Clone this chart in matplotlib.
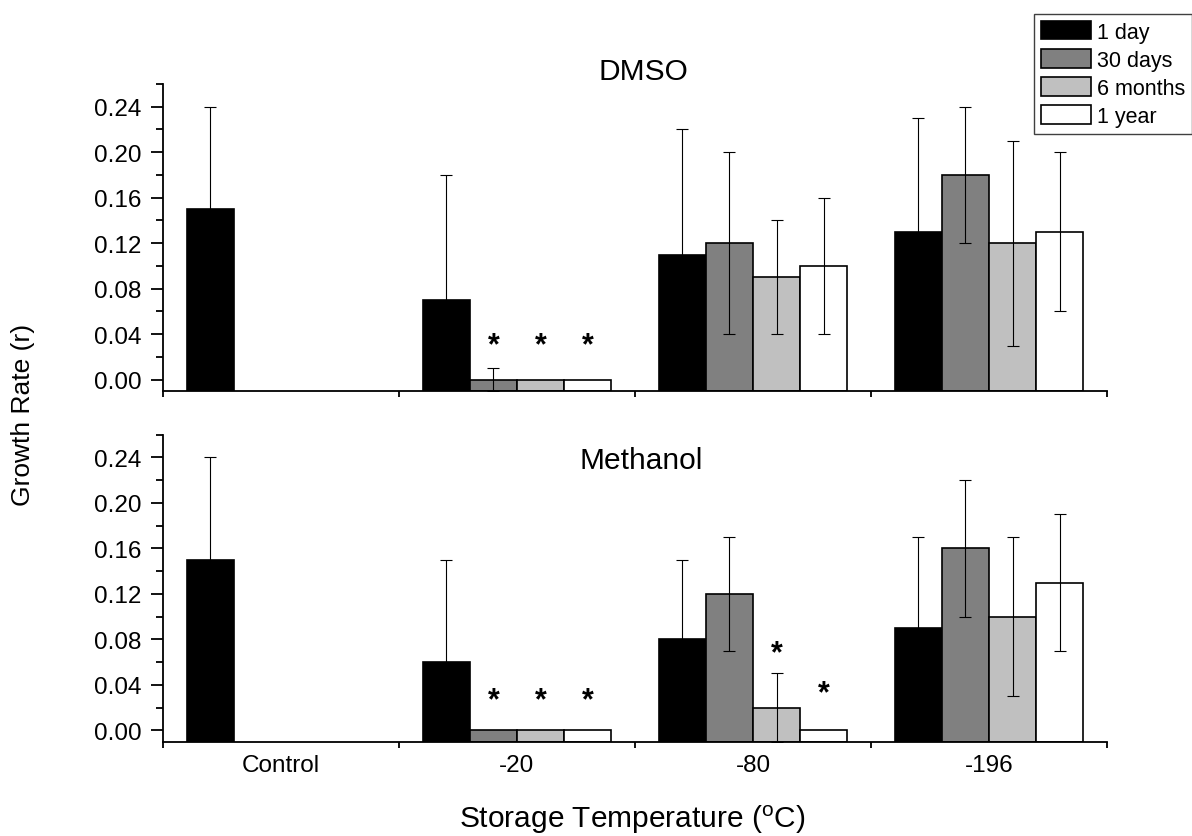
import numpy as np
import matplotlib
matplotlib.use("Agg")
import matplotlib.pyplot as plt
from matplotlib.patches import Patch
from matplotlib.ticker import MultipleLocator, FixedLocator, NullFormatter, FormatStrFormatter

plt.rcParams['font.family'] = ['Liberation Sans', 'DejaVu Sans']

# ---- data -------------------------------------------------------------
categories = ["Control", "-20", "-80", "-196"]
series_names = ["1 day", "30 days", "6 months", "1 year"]
series_colors = ["#000000", "#808080", "#c0c0c0", "#ffffff"]
nan = np.nan

# DMSO panel: mean growth rate and standard deviation per storage time
dmso_1day = [0.15, 0.07, 0.11, 0.13]
dmso_30days = [nan, 0.00, 0.12, 0.18]
dmso_6months = [nan, 0.00, 0.09, 0.12]
dmso_1year = [nan, 0.00, 0.10, 0.13]
dmso_1day_sd = [0.09, 0.11, 0.11, 0.10]
dmso_30days_sd = [nan, 0.01, 0.08, 0.06]
dmso_6months_sd = [nan, nan, 0.05, 0.09]
dmso_1year_sd = [nan, nan, 0.06, 0.07]

# Methanol panel
meoh_1day = [0.15, 0.06, 0.08, 0.09]
meoh_30days = [nan, 0.00, 0.12, 0.16]
meoh_6months = [nan, 0.00, 0.02, 0.10]
meoh_1year = [nan, 0.00, 0.00, 0.13]
meoh_1day_sd = [0.09, 0.09, 0.07, 0.08]
meoh_30days_sd = [nan, nan, 0.05, 0.06]
meoh_6months_sd = [nan, nan, 0.03, 0.07]
meoh_1year_sd = [nan, nan, nan, 0.06]

# significance markers: (category index, series index, height)
dmso_stars = [(1, 1, 0.036), (1, 2, 0.036), (1, 3, 0.036)]
meoh_stars = [(1, 1, 0.032), (1, 2, 0.032), (1, 3, 0.032),
              (2, 2, 0.074), (2, 3, 0.0385)]

panels = [
    ("DMSO", [dmso_1day, dmso_30days, dmso_6months, dmso_1year],
     [dmso_1day_sd, dmso_30days_sd, dmso_6months_sd, dmso_1year_sd], dmso_stars),
    ("Methanol", [meoh_1day, meoh_30days, meoh_6months, meoh_1year],
     [meoh_1day_sd, meoh_30days_sd, meoh_6months_sd, meoh_1year_sd], meoh_stars),
]

# ---- figure -----------------------------------------------------------
W, H = 1192, 837
fig = plt.figure(figsize=(W / 100, H / 100), dpi=100)

left, right = 163 / W, 1107 / W
ax_top = fig.add_axes([left, 1 - 392 / H, right - left, 307 / H])
ax_bot = fig.add_axes([left, 1 - 742.7 / H, right - left, 307 / H])

YMIN, YMAX = -0.01, 0.26
bar_w = 0.2
x = np.arange(len(categories))
offsets = (np.arange(4) - 1.5) * bar_w

title_pos = {"DMSO": (643 / W, 1 - 72.5 / H), "Methanol": (641 / W, 1 - 461 / H)}

for ax, (name, values, sds, stars) in zip([ax_top, ax_bot], panels):
    for j in range(4):
        v = np.array(values[j], dtype=float)
        sd = np.array(sds[j], dtype=float)
        ok = ~np.isnan(v)
        xs = x[ok] + offsets[j]
        ax.bar(xs, v[ok] - YMIN, bottom=YMIN, width=bar_w,
               color=series_colors[j], edgecolor="black", linewidth=1.2,
               zorder=2)
        e = ok & ~np.isnan(sd)
        if e.any():
            ax.errorbar(x[e] + offsets[j], v[e], yerr=sd[e], fmt="none",
                        ecolor="black", elinewidth=0.8, capsize=4.3,
                        capthick=0.8, zorder=3)
    for (ci, sj, h) in stars:
        ax.annotate("*", (x[ci] + offsets[sj], h), xytext=(0, -10.5),
                    textcoords="offset points", ha="center", va="baseline",
                    fontsize=22, fontweight="bold", zorder=4)

    ax.set_xlim(-0.5, 3.5)
    ax.set_ylim(YMIN, YMAX)
    for s in ["top", "right"]:
        ax.spines[s].set_visible(False)
    for s in ["left", "bottom"]:
        ax.spines[s].set_linewidth(1.3)

    ax.yaxis.set_major_locator(MultipleLocator(0.04))
    ax.yaxis.set_minor_locator(MultipleLocator(0.02))
    ax.yaxis.set_major_formatter(FormatStrFormatter("%.2f"))
    ax.tick_params(axis="y", which="major", direction="out", length=8.6,
                   width=1.3, labelsize=17.5, pad=7)
    ax.tick_params(axis="y", which="minor", direction="out", length=5,
                   width=1.3)

    ax.xaxis.set_major_locator(FixedLocator([-0.5, 0.5, 1.5, 2.5, 3.5]))
    ax.xaxis.set_major_formatter(NullFormatter())
    ax.xaxis.set_minor_locator(FixedLocator(x))
    ax.tick_params(axis="x", which="major", direction="out", length=4.3,
                   width=1.3)
    ax.tick_params(axis="x", which="minor", length=0, labelsize=17.5, pad=9)
    if ax is ax_bot:
        ax.set_xticklabels(categories, minor=True)
    else:
        ax.xaxis.set_minor_formatter(NullFormatter())

    tx, ty = title_pos[name]
    fig.text(tx, ty, name, ha="center", va="center", fontsize=21.5)

fig.text(23 / W, 1 - 414.5 / H, "Growth Rate (r)", rotation=90,
         ha="center", va="center", fontsize=19)
fig.text(632.5 / W, 1 - 820 / H, r"Storage Temperature ($\mathregular{^o}$C)",
         ha="center", va="center", fontsize=21.5)

handles = [Patch(facecolor=c, edgecolor="black", linewidth=1.2)
           for c in series_colors]
leg = fig.legend(handles, series_names, loc="upper left",
                 bbox_to_anchor=(1034 / W, 1 - 15 / H), borderaxespad=0,
                 fontsize=15.5, handlelength=2.35, handleheight=0.95,
                 handletextpad=0.25, labelspacing=0.3, borderpad=0.32,
                 fancybox=False, framealpha=1)
leg.get_frame().set_edgecolor("#404040")
leg.get_frame().set_linewidth(1.0)

fig.savefig("out.png", dpi=100)
